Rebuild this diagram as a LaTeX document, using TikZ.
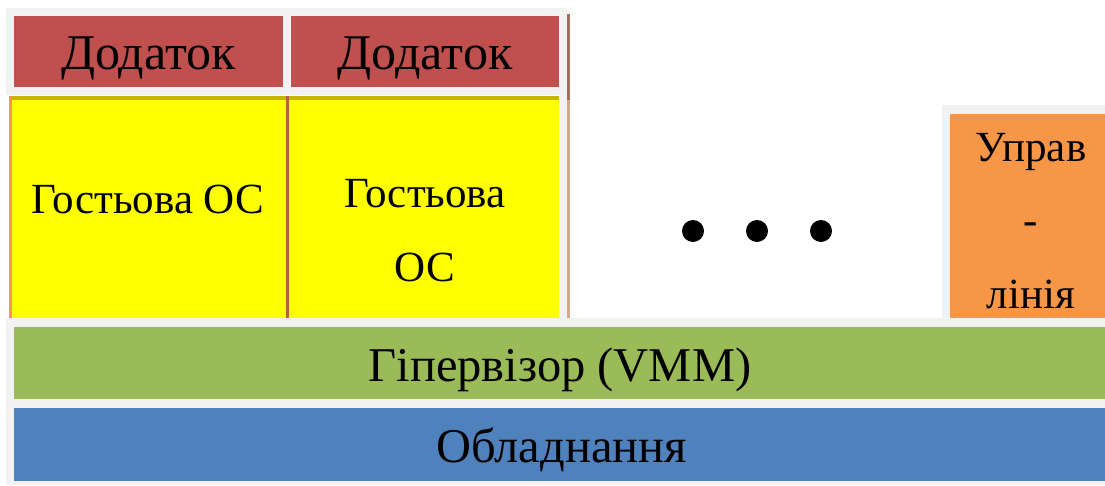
\documentclass[tikz,border=0pt]{standalone}
\usepackage{fontspec}
\setmainfont{Liberation Serif}
\definecolor{cgray}{HTML}{F2F2F2}
\definecolor{cred}{HTML}{C0504D}
\definecolor{cyel}{HTML}{FFFF00}
\definecolor{colive}{HTML}{C8B400}
\definecolor{corange}{HTML}{F79646}
\definecolor{cgreen}{HTML}{9BBB59}
\definecolor{cblue}{HTML}{4F81BD}
\definecolor{cbrown}{HTML}{A0705F}
\definecolor{ctan}{HTML}{D4A88C}
\definecolor{cmid}{HTML}{C06030}
\tikzset{
  lbl/.style={anchor=base, inner sep=0pt, text=black},
  app/.style={lbl, font=\fontsize{50}{60}\selectfont},
  big/.style={lbl, font=\fontsize{48.5}{58}\selectfont},
  mid/.style={lbl, font=\fontsize{43}{52}\selectfont},
  dotc/.style={fill=black}
}
\begin{document}
\begin{tikzpicture}[x=1pt,y=-1pt]
\useasboundingbox (0,0) rectangle (1105,486);
% top gray frame
\fill[cgray] (6,8) rectangle (567,95);
\fill[cred] (14,16) rectangle (283,87);
\fill[cred] (291,16) rectangle (559,87);
\fill[cbrown] (567,14) rectangle (570,100);
% yellow area
\fill[cgray] (559,95) rectangle (567,318);
\fill[cyel] (9,96) rectangle (559,318);
\fill[colive] (9,96) rectangle (559,100);
\fill[corange] (9,96) rectangle (11.5,318);
\fill[cmid] (286,96) rectangle (289,318);
\fill[ctan] (567,100) rectangle (569.5,318);
% right managing box
\fill[cgray] (942,105) rectangle (1105,318);
\fill[corange] (950,114) rectangle (1105,318);
% bottom
\fill[cgray] (6,318) rectangle (1105,485);
\fill[cgreen] (14,327) rectangle (1105,399);
\fill[cblue] (14,408) rectangle (1105,481);
% texts
\node[app] (app1) at (148.5,70) {Додаток};
\node[app] (app2) at (425,70) {Додаток};
\node[mid] (os1) at (148,214) {Гостьова ОС};
\node[mid] (os2a) at (425,208) {Гостьова};
\node[mid] (os2b) at (425,281) {ОС};
\node[mid] (m1) at (1031,162) {Управ};
\node[mid] (m2) at (1031,235) {-};
\node[mid] (m3) at (1031,308) {лінія};
\node[big] (hyp) at (560,381) {Гіпервізор (VMM)};
\node[big] (hw) at (561.5,462) {Обладнання};
% dots
\fill[dotc] (693,231) circle (11);
\fill[dotc] (757,231) circle (11);
\fill[dotc] (821,231) circle (11);
\end{tikzpicture}
\end{document}
